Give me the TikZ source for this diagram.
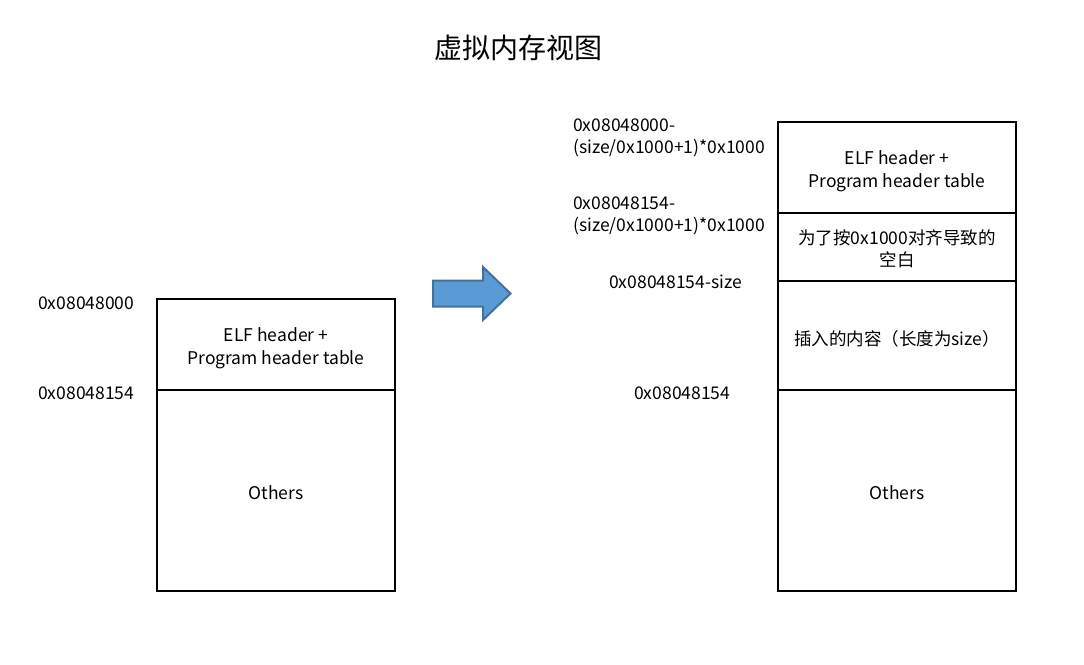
\documentclass[tikz,border=0pt]{standalone}
\usepackage{fontspec}
\setmainfont{Noto Sans CJK SC}
\usetikzlibrary{positioning}
\definecolor{arrowfill}{HTML}{5B9BD5}
\definecolor{arrowline}{HTML}{41719C}
\newcommand{\blocktext}[2][4pt]{\raisebox{-#1}[\height][\depth]{\begin{tabular}{@{}c@{}}#2\end{tabular}}}
\tikzset{memblock/.style={draw,line width=1.5pt,minimum width=238pt,inner sep=0pt,outer sep=0pt}}
\tikzset{addr/.style={anchor=west,inner sep=0pt,align=left}}
\tikzset{blockarrow/.style={fill=arrowfill,draw=arrowline,line width=2pt}}

\begin{document}
\begin{tikzpicture}[x=1pt,y=-1pt,font=\fontsize{17.5}{22.5}\selectfont]
  \useasboundingbox (0,0) rectangle (1084,664);

  \node (title) at (518,48) {\fontsize{28}{32}\selectfont 虚拟内存视图};

  % left: before
  \node [memblock,minimum height=91pt] (lhdr) at (276,344.5) {\blocktext{ELF header +\\Program header table}};
  \node [memblock,minimum height=201pt,below=0pt of lhdr] (lothers) {\blocktext{Others}};

  \node [addr] (laddr0) at (38,303) {0x08048000};
  \node [addr] (laddr1) at (38,393) {0x08048154};

  \draw [blockarrow] (433,280.5) -- (483,280.5) -- (483,267) -- (510.5,293.5)
    -- (483,320) -- (483,306.5) -- (433,306.5) -- cycle;

  % right: after
  \node [memblock,minimum height=91pt] (rhdr) at (897,167.5) {\blocktext{ELF header +\\Program header table}};
  \node [memblock,minimum height=68pt,below=0pt of rhdr] (rgap) {\blocktext{为了按0x1000对齐导致的\\空白}};
  \node [memblock,minimum height=109pt,below=0pt of rgap] (rins) {\blocktext[5pt]{插入的内容（长度为size）}};
  \node [memblock,minimum height=201pt,below=0pt of rins] (rothers) {\blocktext{Others}};

  \node [addr] (raddr0) at (573,138) {0x08048000-\\(size/0x1000+1)*0x1000};
  \node [addr] (raddr1) at (573,216) {0x08048154-\\(size/0x1000+1)*0x1000};
  \node [addr] (raddr2) at (609,282) {0x08048154-size};
  \node [addr] (raddr3) at (634,393) {0x08048154};
\end{tikzpicture}
\end{document}
